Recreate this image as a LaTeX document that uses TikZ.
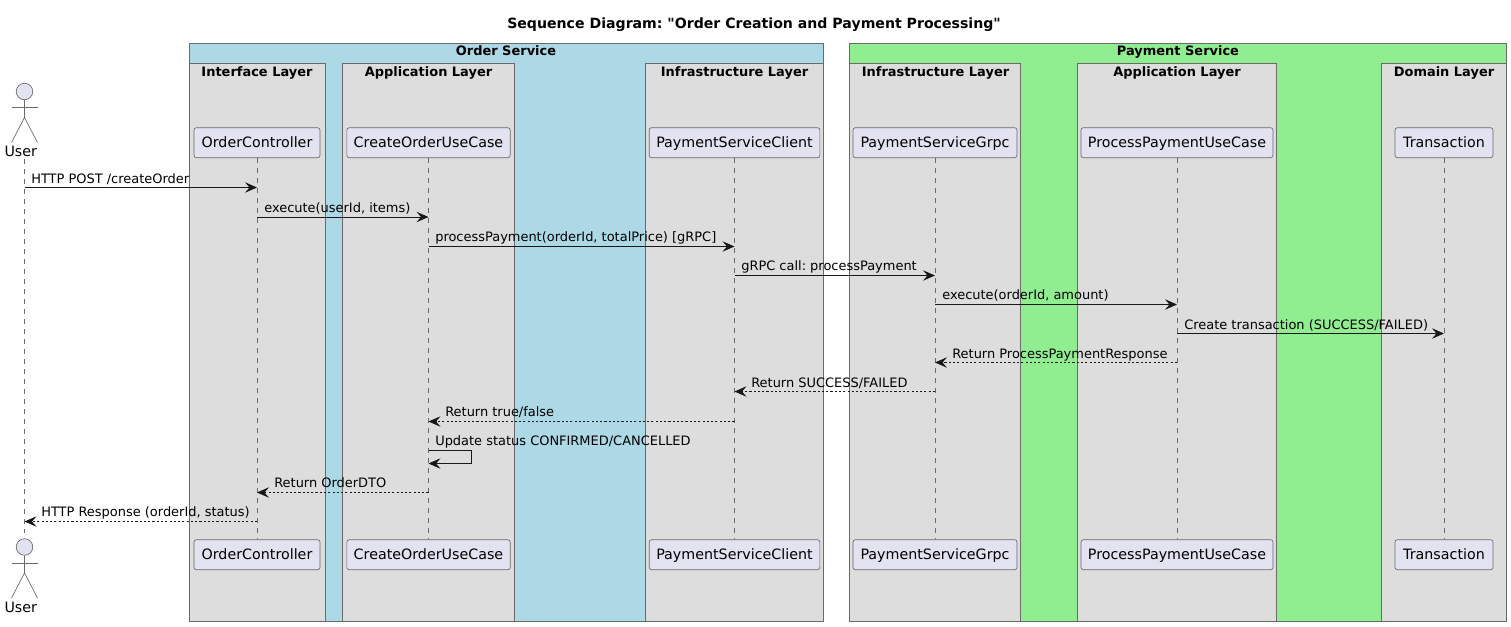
\documentclass[tikz,border=0pt]{standalone}
\usepackage{fontspec}
\setmainfont{DejaVu Sans}[Ligatures=TeXOff]
\usetikzlibrary{arrows.meta}
\definecolor{bluebg}{HTML}{ADD8E6}
\definecolor{greenbg}{HTML}{90EE90}
\definecolor{layerbg}{HTML}{DDDDDD}
\definecolor{partbg}{HTML}{E2E2F0}
\definecolor{edgegray}{HTML}{6A6A6A}
\definecolor{ink}{HTML}{181818}
\frenchspacing
\tikzset{
  x=0.75pt,y=-0.75pt,
  every node/.style={font=\frenchspacing\fontsize{9.72pt}{11pt}\selectfont,text=black},
  groupbox/.style={draw=edgegray,line width=0.6pt},
  grouptitle/.style={font=\frenchspacing\fontsize{9.72pt}{11pt}\selectfont\bfseries,anchor=base},
  partbox/.style={draw=edgegray,fill=partbg,rounded corners=1.8pt,line width=0.5pt,minimum height=22.5pt,inner sep=0pt,anchor=center,text height=9.5pt,text depth=2pt,font=\fontsize{10.7pt}{12pt}\selectfont},
  lifeline/.style={draw=edgegray,line width=0.45pt,dash pattern=on 3.75pt off 3.75pt},
  actorline/.style={draw=edgegray,line width=0.5pt},
  msgtip/.style={-{Stealth[length=9pt,width=7.8pt,inset=3.4pt]}},
  msg/.style={draw=ink,line width=0.6pt,msgtip},
  ret/.style={draw=ink,line width=0.6pt,dash pattern=on 1.6pt off 1.6pt,msgtip},
  msglabel/.style={anchor=base west,inner sep=0pt},
}
\newcommand{\actorfig}[3]{%
  \node[circle,draw=edgegray,fill=partbg,line width=0.5pt,minimum size=12.4pt,inner sep=0pt] (#1head) at (24.5,#2) {};
  \coordinate (#1hip) at (24.5,#2+26);
  \draw[actorline] (#1head.south) -- (#1hip);
  \coordinate (#1al) at (11.5,#2+16);
  \coordinate (#1ar) at (37.5,#2+16);
  \draw[actorline] (#1al) -- (#1ar);
  \coordinate (#1ll) at (11.5,#2+51);
  \coordinate (#1lr) at (37.5,#2+51);
  \draw[actorline] (#1ll) -- (#1hip) -- (#1lr);
  \node[inner sep=0pt,anchor=base,font=\fontsize{10.7pt}{12pt}\selectfont] (#1lab) at (20.8,#3) {User};
}
\begin{document}
\begin{tikzpicture}
\useasboundingbox (0,0) rectangle (1511,626);
\fill[white] (0,0) rectangle (1511,626);

\node[font=\frenchspacing\fontsize{10.58pt}{12pt}\selectfont\bfseries,anchor=base] (title) at (754,28) {Sequence Diagram: "Order Creation and Payment Processing"};

% service groups
\draw[groupbox,fill=bluebg] (189,43) rectangle (823.5,621);
\draw[groupbox,fill=greenbg] (849.5,43) rectangle (1506.5,621);
\node[grouptitle] (ordertitle) at (506,55) {Order Service};
\node[grouptitle] (paytitle) at (1178,55) {Payment Service};

% layers
\draw[groupbox,fill=layerbg] (189,63.5) rectangle (325.5,621);
\draw[groupbox,fill=layerbg] (342.5,63.5) rectangle (514.5,621);
\draw[groupbox,fill=layerbg] (645.5,63.5) rectangle (823.5,621);
\draw[groupbox,fill=layerbg] (849.5,63.5) rectangle (1020.5,621);
\draw[groupbox,fill=layerbg] (1077.5,63.5) rectangle (1276.5,621);
\draw[groupbox,fill=layerbg] (1381.5,63.5) rectangle (1506.5,621);
\node[grouptitle] (l1) at (257,76) {Interface Layer};
\node[grouptitle] (l2) at (428.5,76) {Application Layer};
\node[grouptitle] (l3) at (734.5,76) {Infrastructure Layer};
\node[grouptitle] (l4) at (935.5,76) {Infrastructure Layer};
\node[grouptitle] (l5) at (1177,76) {Application Layer};
\node[grouptitle] (l6) at (1444,76) {Domain Layer};

% participants
\node[partbox,minimum width=94.5pt] (ocT) at (257,142.7) {OrderController};
\node[partbox,minimum width=122.5pt] (cuT) at (428.5,142.7) {CreateOrderUseCase};
\node[partbox,minimum width=128pt] (pcT) at (734.5,142.7) {PaymentServiceClient};
\node[partbox,minimum width=123pt] (pgT) at (935,142.7) {PaymentServiceGrpc};
\node[partbox,minimum width=144pt] (ppT) at (1177,142.7) {ProcessPaymentUseCase};
\node[partbox,minimum width=73.5pt] (txT) at (1444,142.7) {Transaction};
\node[partbox,minimum width=94.5pt] (ocB) at (257,554.7) {OrderController};
\node[partbox,minimum width=122.5pt] (cuB) at (428.5,554.7) {CreateOrderUseCase};
\node[partbox,minimum width=128pt] (pcB) at (734.5,554.7) {PaymentServiceClient};
\node[partbox,minimum width=123pt] (pgB) at (935,554.7) {PaymentServiceGrpc};
\node[partbox,minimum width=144pt] (ppB) at (1177,554.7) {ProcessPaymentUseCase};
\node[partbox,minimum width=73.5pt] (txB) at (1444,554.7) {Transaction};

% actor
\actorfig{ua}{91.5}{156}
\actorfig{ub}{547}{612}
\coordinate (uT) at (24.5,159);
\coordinate (uB) at (24.5,533);

% lifelines
\draw[lifeline] (uT) -- (uB);
\foreach \p in {oc,cu,pc,pg,pp,tx}{\draw[lifeline] (\p T.south) -- (\p B.north);}

% message rows
\foreach \n/\y in {m1/187.5,m2/217,m3/246.5,m4/275.5,m5/304.5,m6/333.5,m7/362.5,m8/391.5,m9/421.5,m10/450.5,m10b/463.5,m11/492.5,m12/521.5}{\coordinate (\n) at (0,\y);}

\draw[msg] (uT |- m1) -- (ocT.south |- m1);
\node[msglabel] (t1) at (31,183) {HTTP POST /createOrder};
\draw[msg] (ocT.south |- m2) -- (cuT.south |- m2);
\node[msglabel] (t2) at (264,212) {execute(userId, items)};
\draw[msg] (cuT.south |- m3) -- (pcT.south |- m3);
\node[msglabel] (t3) at (435,241) {processPayment(orderId, totalPrice) [gRPC]};
\draw[msg] (pcT.south |- m4) -- (pgT.south |- m4);
\node[msglabel] (t4) at (741,270) {gRPC call: processPayment};
\draw[msg] (pgT.south |- m5) -- (ppT.south |- m5);
\node[msglabel] (t5) at (942,299) {execute(orderId, amount)};
\draw[msg] (ppT.south |- m6) -- (txT.south |- m6);
\node[msglabel] (t6) at (1184,329) {Create transaction (SUCCESS/FAILED)};
\draw[ret] (ppT.south |- m7) -- (pgT.south |- m7);
\node[msglabel] (t7) at (952,358) {Return ProcessPaymentResponse};
\draw[ret] (pgT.south |- m8) -- (pcT.south |- m8);
\node[msglabel] (t8) at (751,387) {Return SUCCESS/FAILED};
\draw[ret] (pcT.south |- m9) -- (cuT.south |- m9);
\node[msglabel] (t9) at (445,416) {Return true/false};
\coordinate (selfa) at (471,450.5);
\coordinate (selfb) at (471,463.5);
\draw[msg] (cuT.south |- m10) -- (selfa) -- (selfb) -- (cuT.south |- m10b);
\node[msglabel] (t10) at (435,445) {Update status CONFIRMED/CANCELLED};
\draw[ret] (cuT.south |- m11) -- (ocT.south |- m11);
\node[msglabel] (t11) at (274,487) {Return OrderDTO};
\draw[ret] (ocT.south |- m12) -- (uT |- m12);
\node[msglabel] (t12) at (41,516) {HTTP Response (orderId, status)};
\end{tikzpicture}
\end{document}
